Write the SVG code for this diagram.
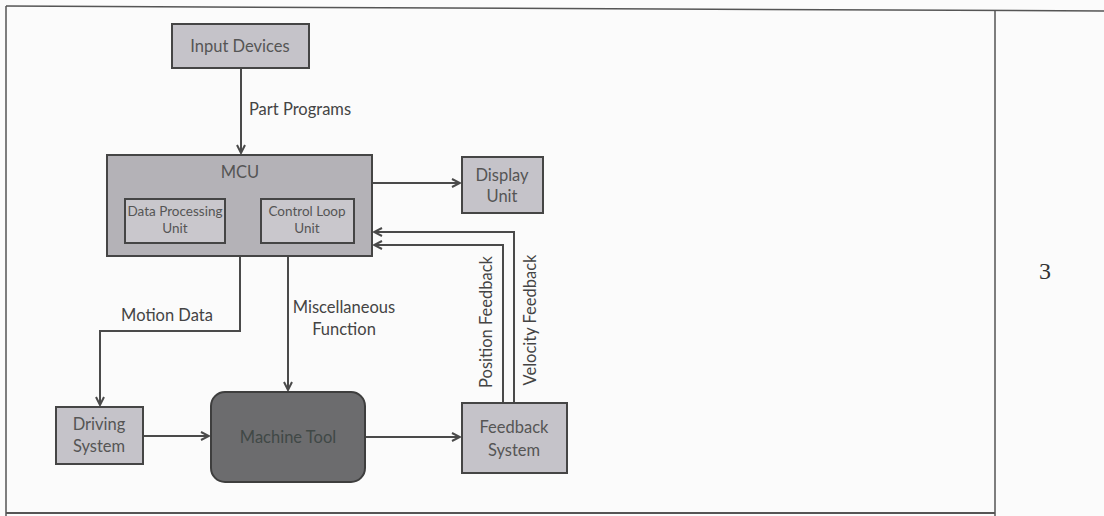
<svg xmlns="http://www.w3.org/2000/svg" width="1104" height="516" viewBox="0 0 1104 516">
<defs>
<marker id="arr" viewBox="0 0 10 10" refX="9" refY="5" markerWidth="10" markerHeight="10" markerUnits="userSpaceOnUse" orient="auto">
<path d="M1,1 L9,5 L1,9" fill="none" stroke="#4a4a4a" stroke-width="2"/>
</marker>
<style>
.box{fill:#c5c3c9;stroke:#454545;stroke-width:2}
.mcu{fill:#b4b2b7;stroke:#454545;stroke-width:2}
.inner{fill:#c9c7cc;stroke:#454545;stroke-width:2}
.dark{fill:#6c6c6e;stroke:#3e3e3e;stroke-width:2}
.t{font-family:Lato,"Open Sans",sans-serif;font-size:16.5px;fill:#555;text-anchor:middle}
.ts{font-family:Lato,"Open Sans",sans-serif;font-size:13.5px;fill:#555;text-anchor:middle}
.lbl{font-family:Lato,"Open Sans",sans-serif;font-size:16.5px;fill:#444;text-anchor:middle}
.c{fill:none;stroke:#4a4a4a;stroke-width:2}
.frame{stroke:#555;stroke-width:1.5;fill:none}
</style>
</defs>
<rect width="1104" height="516" fill="#fbfbfb"/>
<g id="frame">
<line class="frame" x1="6" y1="6" x2="1104" y2="11"/>
<line class="frame" x1="6" y1="6" x2="6" y2="516"/>
<line class="frame" x1="995" y1="10" x2="995" y2="516"/>
<line x1="6" y1="513" x2="995" y2="513" stroke="#555" stroke-width="2"/>
<text x="1045" y="279" font-family="Liberation Serif,serif" font-size="24" fill="#333" text-anchor="middle">3</text>
</g>
<g id="connectors">
<line class="c" x1="241" y1="68" x2="241" y2="153" marker-end="url(#arr)"/>
<line class="c" x1="372" y1="183" x2="460" y2="183" marker-end="url(#arr)"/>
<polyline class="c" points="514,403 514,232 374,232" marker-end="url(#arr)"/>
<polyline class="c" points="503,403 503,245 374,245" marker-end="url(#arr)"/>
<polyline class="c" points="240,256 240,331 100,331 100,405" marker-end="url(#arr)"/>
<line class="c" x1="288" y1="256" x2="288" y2="390" marker-end="url(#arr)"/>
<line class="c" x1="143" y1="436" x2="209" y2="436" marker-end="url(#arr)"/>
<line class="c" x1="365" y1="437" x2="460" y2="437" marker-end="url(#arr)"/>
<text class="lbl" x="300" y="115">Part Programs</text>
<text class="lbl" x="167" y="321">Motion Data</text>
<text class="lbl" x="344" y="313">Miscellaneous</text>
<text class="lbl" x="344" y="335">Function</text>
<text class="lbl" transform="translate(492,322) rotate(-90)">Position Feedback</text>
<text class="lbl" transform="translate(536,320) rotate(-90)">Velocity Feedback</text>
</g>
<g id="input-devices">
<rect class="box" x="172" y="24" width="137" height="44"/>
<text class="t" x="240" y="52">Input Devices</text>
</g>
<g id="mcu">
<rect class="mcu" x="107" y="155" width="265" height="101"/>
<text class="t" x="240" y="178">MCU</text>
</g>
<g id="data-processing-unit">
<rect class="inner" x="125" y="199" width="100" height="44"/>
<text class="ts" x="175" y="216">Data Processing</text>
<text class="ts" x="175" y="233">Unit</text>
</g>
<g id="control-loop-unit">
<rect class="inner" x="261" y="199" width="93" height="44"/>
<text class="ts" x="307" y="216">Control Loop</text>
<text class="ts" x="307" y="233">Unit</text>
</g>
<g id="display-unit">
<rect class="box" x="462" y="157" width="81" height="56"/>
<text class="t" x="502" y="181">Display</text>
<text class="t" x="502" y="202">Unit</text>
</g>
<g id="driving-system">
<rect class="box" x="56" y="407" width="87" height="57"/>
<text class="t" x="99" y="430">Driving</text>
<text class="t" x="99" y="452">System</text>
</g>
<g id="machine-tool">
<rect class="dark" x="211" y="392" width="154" height="90" rx="14"/>
<text class="t" x="288" y="443" style="fill:#404846">Machine Tool</text>
</g>
<g id="feedback-system">
<rect class="box" x="462" y="403" width="105" height="70"/>
<text class="t" x="514" y="433">Feedback</text>
<text class="t" x="514" y="456">System</text>
</g>
</svg>
